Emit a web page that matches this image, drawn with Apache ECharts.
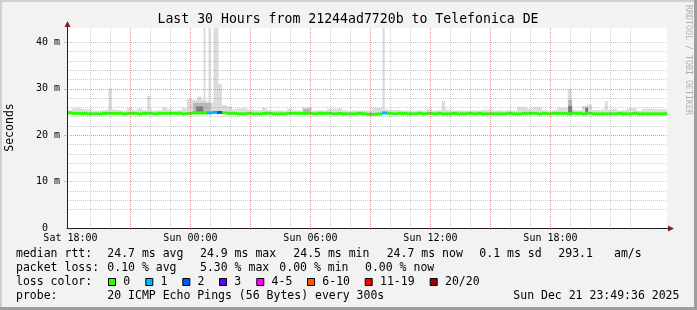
<!DOCTYPE html>
<html><head><meta charset="utf-8">
<script src="https://cdn.jsdelivr.net/npm/echarts@6/dist/echarts.min.js"></script>
<style>html,body{margin:0;padding:0;background:#f2f2f2;overflow:hidden}#c{width:697px;height:310px}</style>
</head><body><div id="c"></div>
<script>
// ---------------- data ----------------
// time axis in minutes relative to Sat 18:00; graph spans Sat 17:49:36 .. Sun 23:49:36
const startMin = -10.4;
const endMin = 1789.6;
const binMinutes = 15;
const yMax = 43.1; // ms

const title = 'Last 30 Hours from 21244ad7720b to Telefonica DE';
const xTickMinutes = [0, 360, 720, 1080, 1440];
const xTickLabels = ['Sat 18:00', 'Sun 00:00', 'Sun 06:00', 'Sun 12:00', 'Sun 18:00'];
const xMajorGrid = [0, 180, 360, 540, 720, 900, 1080, 1260, 1440, 1620];
const xMinorGrid = [0, 60, 120, 180, 240, 300, 360, 420, 480, 540, 600, 660, 720, 780, 840, 900, 960, 1020,
  1080, 1140, 1200, 1260, 1320, 1380, 1440, 1500, 1560, 1620, 1680, 1740];
const yTickValues = [0, 10, 20, 30, 40];
const yTickLabels = ['0  ', '10 m', '20 m', '30 m', '40 m'];
const yMajorGrid = [10, 20, 30, 40];
const yMinorGrid = [2, 4, 6, 8, 10, 12, 14, 16, 18, 20, 22, 24, 26, 28, 30, 32, 34, 36, 38, 40, 42];

// median rtt (ms) per 15-minute bin
const medianRtt = [
  24.8,24.7,24.7,24.7,24.6,24.6,24.6,24.7,24.7,24.7,24.7,24.6,24.7,24.7,24.6,24.7,24.7,24.6,24.7,24.7,
  24.7,24.7,24.7,24.6,24.7,24.8,24.8,24.8,24.8,24.9,24.9,24.8,24.7,24.7,24.6,24.6,24.7,24.6,24.6,24.7,
  24.7,24.6,24.6,24.6,24.7,24.7,24.7,24.7,24.7,24.6,24.7,24.7,24.7,24.6,24.7,24.6,24.6,24.6,24.7,24.6,
  24.5,24.5,24.6,24.8,24.7,24.6,24.7,24.7,24.6,24.6,24.7,24.6,24.7,24.6,24.7,24.6,24.6,24.7,24.6,24.6,
  24.7,24.6,24.7,24.6,24.6,24.6,24.6,24.6,24.7,24.6,24.6,24.7,24.7,24.7,24.6,24.7,24.6,24.7,24.7,24.7,
  24.6,24.7,24.7,24.6,24.7,24.6,24.6,24.6,24.6,24.6,24.7,24.6,24.6,24.7,24.6,24.6,24.6,24.6,24.6,24.6
];
// loss class per bin (index into lossLabels / lossColors)
const lossBin = [
  0,0,0,0,0,0,0,0,0,0,0,0,0,0,0,0,0,0,0,0,
  0,0,0,0,0,0,0,0,1,1,2,0,0,0,0,0,0,0,0,0,
  0,0,0,0,0,0,0,0,0,0,0,0,0,0,0,0,0,0,0,0,
  0,0,0,1,0,0,0,0,0,0,0,0,0,0,0,0,0,0,0,0,
  0,0,0,0,0,0,0,0,0,0,0,0,0,0,0,0,0,0,0,0,
  0,0,0,0,0,0,0,0,0,0,0,0,0,0,0,0,0,0,0,0
];
// smoke (spread of the 20 pings) per bin, ms
const smokeLo = [
  24.5,24.5,24.5,24.5,24.4,24.4,24.5,24.5,24.5,24.5,24.5,24.4,24.5,24.5,24.4,24.5,24.5,24.4,24.5,24.5,
  24.5,24.5,24.5,24.4,24.5,24.6,24.6,24.6,24.6,24.6,24.6,24.6,24.5,24.5,24.4,24.4,24.5,24.4,24.4,24.5,
  24.5,24.4,24.4,24.4,24.5,24.5,24.5,24.5,24.5,24.4,24.5,24.5,24.5,24.4,24.5,24.4,24.4,24.4,24.5,24.4,
  24.3,24.3,24.4,24.6,24.5,24.4,24.5,24.5,24.4,24.4,24.5,24.4,24.5,24.4,24.5,24.4,24.4,24.5,24.4,24.4,
  24.5,24.4,24.5,24.4,24.4,24.4,24.4,24.4,24.5,24.4,24.4,24.5,24.5,24.5,24.4,24.5,24.4,24.5,24.5,24.5,
  24.4,24.5,24.5,24.4,24.5,24.4,24.4,24.4,24.4,24.4,24.5,24.4,24.4,24.5,24.4,24.4,24.4,24.4,24.4,24.4
];
const smokeHi = [
  25.4,25.8,25.8,25.6,25.6,25.3,25.3,25.4,25.5,25.5,25.4,25.3,25.9,25.4,25.8,25.4,25.5,25.3,25.4,26.0,
  25.6,25.3,25.4,25.8,27.8,27.6,28.3,27.5,27.0,27.0,31.0,26.5,26.2,25.6,25.8,25.8,25.5,25.4,25.4,25.9,
  25.4,25.3,25.4,25.3,25.7,25.4,25.3,26.0,26.0,25.3,25.4,25.3,25.7,25.7,25.8,25.4,25.3,25.4,25.3,25.4,
  25.3,25.9,25.9,25.6,25.5,25.4,25.4,25.3,25.4,25.3,25.4,25.3,25.6,25.3,25.4,25.6,25.4,25.3,25.4,25.3,
  25.3,25.4,25.3,25.5,25.5,25.3,25.4,25.3,25.4,25.3,26.0,26.0,25.7,26.0,26.0,25.4,25.3,25.4,25.9,25.9,
  25.6,25.5,25.4,26.3,26.6,25.4,25.4,25.6,25.5,25.7,25.3,25.4,25.8,25.8,25.3,25.7,25.7,25.6,25.6,25.6
];
// narrow single-sample spikes: [from min, to min, top ms]
const spikes = [
  [114, 124, 30.0], [230, 239, 28.5], [399, 405, 50], [414, 420, 50], [429, 444, 50],
  [936, 943, 50], [1114, 1124, 27.4], [1492, 1504, 29.9], [1603, 1612, 27.3]
];
// denser (darker) smoke patches: [from min, to min, lo ms, hi ms, shade]
const darkSmoke = [
  [368, 420, 24.8, 27.0, 0], [377, 398, 24.9, 26.2, 1],
  [698, 719, 24.8, 25.7, 0], [1493, 1505, 24.8, 27.6, 0], [1493, 1505, 24.8, 26.3, 1],
  [1544, 1553, 24.8, 26.0, 1]
];

const lossLabels = ['0', '1', '2', '3', '4-5', '6-10', '11-19', '20/20'];
const lossColors = ['#26ff00', '#00b8ff', '#0059ff', '#5e00ff', '#ff00ff', '#ff5500', '#ff0000', '#a10000'];

const statLines = [
  ['median rtt:', ['24.7 ms avg', '24.9 ms max', '24.5 ms min', '24.7 ms now', '0.1 ms sd', '293.1', 'am/s']],
  ['packet loss:', ['0.10 % avg', '5.30 % max', '0.00 % min', '0.00 % now']],
  ['probe:', ['20 ICMP Echo Pings (56 Bytes) every 300s', 'Sun Dec 21 23:49:36 2025']]
];

// ---------------- layout / style ----------------
const FONT = "'DejaVu Sans Mono', 'Liberation Mono', monospace";
const minorColor = 'rgba(140,140,140,0.45)';
const majorColor = 'rgba(222,79,79,0.38)';
const smokeLight = '#dcdcdc';
const smokeShades = ['#b8b8b8', '#7a7a7a'];

const binData = medianRtt.map((m, i) => [startMin + i * binMinutes, startMin + (i + 1) * binMinutes, m, lossBin[i]]);
const smokeData = smokeHi.map((h, i) => [startMin + i * binMinutes, startMin + (i + 1) * binMinutes, smokeLo[i], h]);
const spikeData = spikes.map(s => [s[0], s[1], 24.6, s[2]]);

function rectRender(fillFn) {
  return function (params, api) {
    const lo = api.value(2), hi = Math.min(api.value(3), yMax);
    const a = api.coord([api.value(0), hi]);
    const b = api.coord([api.value(1), lo]);
    return { type: 'rect', shape: { x: a[0], y: a[1], width: b[0] - a[0], height: b[1] - a[1] },
      style: { fill: fillFn(params, api) } };
  };
}

const chart = echarts.init(document.getElementById('c'), null, { renderer: 'canvas' });

const graphic = [
  { type: 'rect', shape: { x: 0, y: 0, width: 697, height: 2 }, style: { fill: '#cfcfcf' }, z: 100 },
  { type: 'rect', shape: { x: 0, y: 0, width: 2, height: 310 }, style: { fill: '#cfcfcf' }, z: 100 },
  { type: 'rect', shape: { x: 0, y: 307, width: 697, height: 3 }, style: { fill: '#9e9e9e' }, z: 100 },
  { type: 'rect', shape: { x: 694, y: 0, width: 3, height: 310 }, style: { fill: '#9e9e9e' }, z: 100 },
  { type: 'line', shape: { x1: 667, y1: 228.5, x2: 669, y2: 228.5 }, style: { stroke: '#1f1f1f', lineWidth: 1 }, z: 100 },
  { type: 'line', shape: { x1: 67.5, y1: 26, x2: 67.5, y2: 28 }, style: { stroke: '#1f1f1f', lineWidth: 1 }, z: 100 },
  { type: 'polygon', shape: { points: [[668, 225.5], [674, 228.5], [668, 231.5]] }, style: { fill: '#801f1f' }, z: 100 },
  { type: 'polygon', shape: { points: [[64.5, 27], [67.5, 21], [70.5, 27]] }, style: { fill: '#801f1f' }, z: 100 },
  { type: 'text', x: 348, y: 19.5, style: { text: title, font: '13.2px ' + FONT, fill: '#000', align: 'center', verticalAlign: 'middle' } },
  { type: 'text', x: 10, y: 127.5, rotation: Math.PI / 2, style: { text: 'Seconds', font: '11.5px ' + FONT, fill: '#000', align: 'center', verticalAlign: 'middle' } },
  { type: 'text', x: 688, y: 60, rotation: -Math.PI / 2, style: { text: 'RRDTOOL / TOBI OETIKER', font: '8.3px ' + FONT, fill: '#b0b0b0', align: 'center', verticalAlign: 'middle' } }
];

const LF = '11.5px ' + FONT;
function addText(x, y, t) {
  graphic.push({ type: 'text', x: x, y: y, style: { text: t, font: LF, fill: '#000', align: 'left', verticalAlign: 'middle' } });
}
const line1X = [107.3, 200, 293.3, 386.7, 479.3, 558.3, 614];
const line2X = [107.3, 200, 279.3, 365];
const line4X = [107.3, 513.3];
addText(16, 254.3, statLines[0][0]); statLines[0][1].forEach((t, i) => addText(line1X[i], 254.3, t));
addText(16, 268.3, statLines[1][0]); statLines[1][1].forEach((t, i) => addText(line2X[i], 268.3, t));
addText(16, 282.3, 'loss color:');
const boxX = [108.5, 145.8, 182.8, 219.5, 256.8, 307.5, 365.2, 430.2];
lossLabels.forEach((l, i) => {
  graphic.push({ type: 'rect', shape: { x: boxX[i], y: 278.5, width: 7, height: 7 }, style: { fill: lossColors[i], stroke: '#000', lineWidth: 1 } });
  addText(boxX[i] + 14.8, 282.3, l);
});
addText(16, 296.3, statLines[2][0]); statLines[2][1].forEach((t, i) => addText(line4X[i], 296.3, t));

const option = {
  backgroundColor: '#f2f2f2',
  animation: false,
  grid: { left: 67, top: 28, width: 600, height: 200, show: true, backgroundColor: '#ffffff', borderWidth: 0 },
  xAxis: [
    { type: 'value', position: 'bottom', min: startMin, max: endMin, minInterval: 60, maxInterval: 60, splitNumber: 30, z: 5,
      axisLine: { show: true, onZero: false, lineStyle: { color: '#1f1f1f', width: 1 } },
      axisTick: { show: true, length: 2, customValues: xMinorGrid, lineStyle: { color: minorColor } },
      axisLabel: { show: false },
      splitLine: { show: true, showMinLine: false, showMaxLine: false, lineStyle: { color: minorColor, type: [1, 1], width: 1 } } },
    { type: 'value', position: 'bottom', min: startMin, max: endMin, minInterval: 180, maxInterval: 180, splitNumber: 10, z: 6,
      axisLine: { show: false, onZero: false },
      axisTick: { show: true, length: 2, customValues: xMajorGrid, lineStyle: { color: majorColor } },
      axisLabel: { show: true, margin: 5, fontFamily: FONT, fontSize: 10, color: '#000', customValues: xTickMinutes,
        formatter: v => { const i = xTickMinutes.indexOf(v); return i >= 0 ? xTickLabels[i] : ''; } },
      splitLine: { show: true, showMinLine: false, showMaxLine: false, lineStyle: { color: majorColor, type: [1, 1], width: 1 } } }
  ],
  yAxis: [
    { type: 'value', position: 'left', min: 0, max: yMax, interval: 2, z: 5,
      axisLine: { show: true, onZero: false, lineStyle: { color: '#1f1f1f', width: 1 } },
      axisTick: { show: false, customValues: yMinorGrid }, axisLabel: { show: false },
      splitLine: { show: true, showMinLine: false, showMaxLine: false, lineStyle: { color: minorColor, type: [1, 1], width: 1 } } },
    { type: 'value', position: 'left', min: 0, max: yMax, interval: 10, z: 6,
      axisLine: { show: false, onZero: false },
      axisTick: { show: true, length: 3, customValues: yMajorGrid, lineStyle: { color: majorColor } },
      axisLabel: { show: true, margin: 7, fontFamily: FONT, fontSize: 10, color: '#000', customValues: yTickValues,
        formatter: v => { const i = yTickValues.indexOf(v); return i >= 0 ? yTickLabels[i] : ''; } },
      splitLine: { show: true, showMinLine: false, showMaxLine: false, lineStyle: { color: majorColor, type: [1, 1], width: 1 } } }
  ],
  series: [
    { type: 'custom', name: 'smoke', xAxisIndex: 0, yAxisIndex: 0, z: 2, silent: true, clip: true,
      encode: { x: [0, 1], y: [2, 3] }, data: smokeData, renderItem: rectRender(() => smokeLight) },
    { type: 'custom', name: 'spikes', xAxisIndex: 0, yAxisIndex: 0, z: 2, silent: true, clip: true,
      encode: { x: [0, 1], y: [2, 3] }, data: spikeData, renderItem: rectRender(() => smokeLight) },
    { type: 'custom', name: 'dense smoke', xAxisIndex: 0, yAxisIndex: 0, z: 2, silent: true, clip: true,
      encode: { x: [0, 1], y: [2, 3] }, data: darkSmoke, renderItem: rectRender((p, api) => smokeShades[api.value(4)]) },
    { type: 'custom', name: 'median rtt', xAxisIndex: 0, yAxisIndex: 0, z: 3, silent: true,
      encode: { x: [0, 1], y: 2 }, data: binData,
      renderItem: function (params, api) {
        const m = api.value(2);
        const a = api.coord([api.value(0), m]);
        const b = api.coord([api.value(1), m]);
        return { type: 'rect', shape: { x: a[0], y: a[1] - 1.5, width: b[0] - a[0] + 0.4, height: 3 },
          style: { fill: lossColors[api.value(3)] } };
      } }
  ],
  graphic: graphic
};
chart.setOption(option);
</script>
</body></html>
